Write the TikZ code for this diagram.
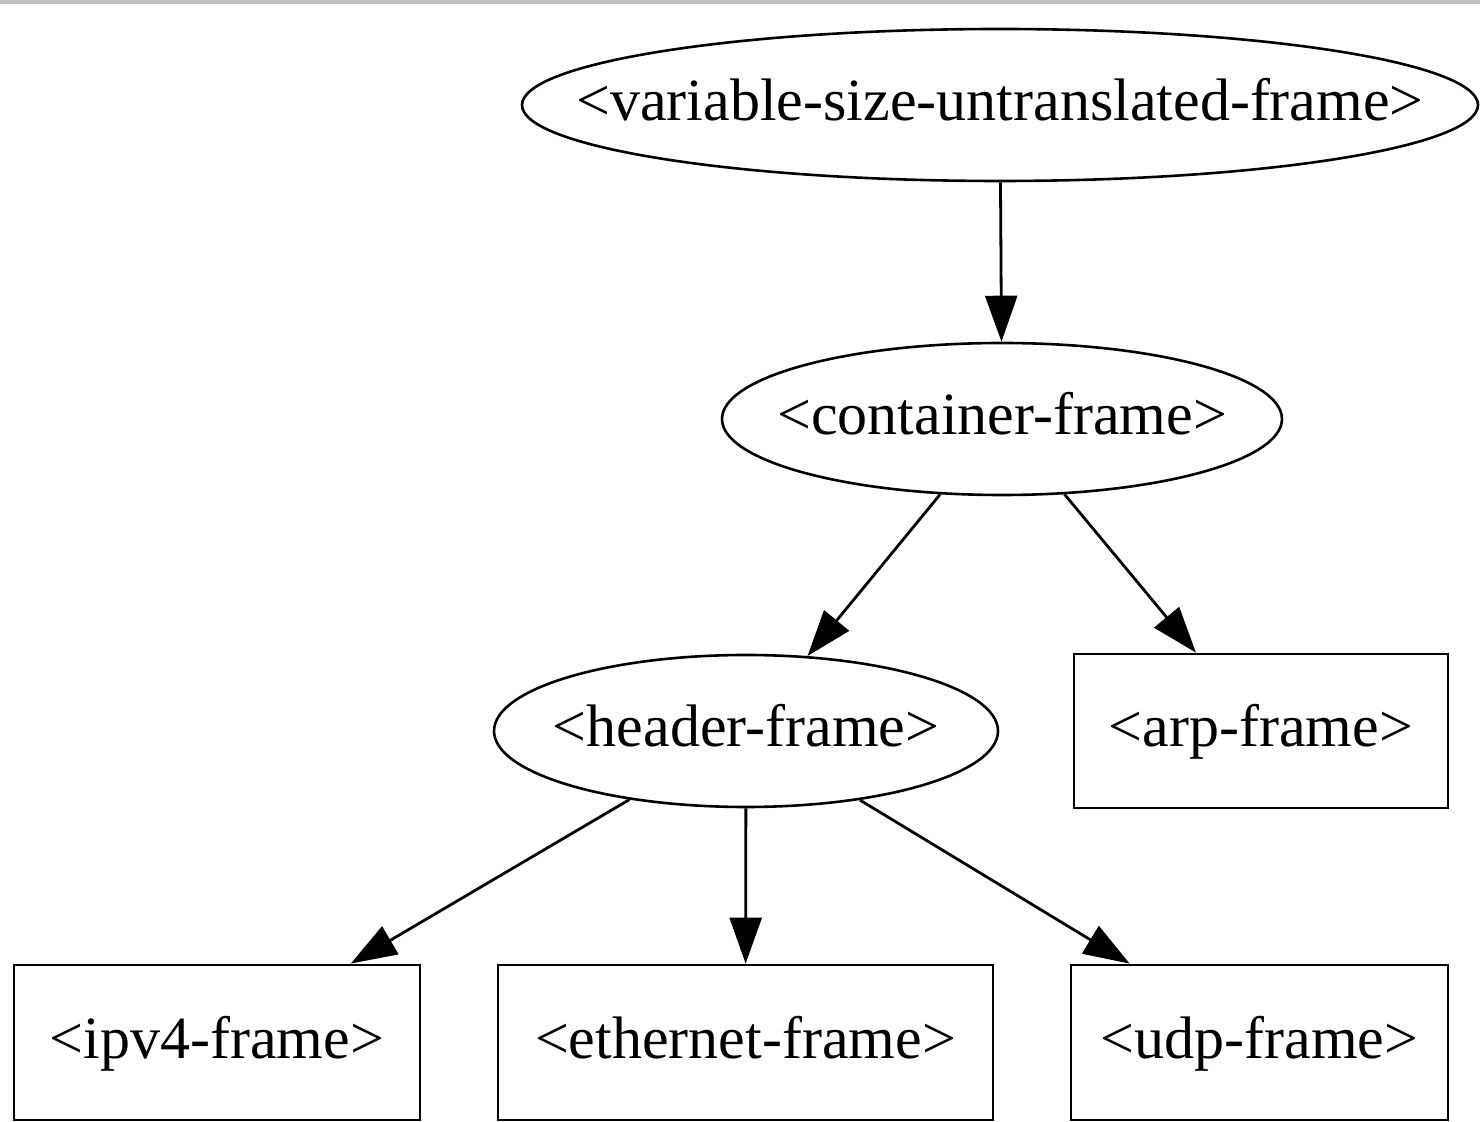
\documentclass[tikz,border=0pt]{standalone}
\usepackage{fontspec}
\setmainfont{Liberation Serif}
\usetikzlibrary{shapes.geometric,arrows.meta}
\begin{document}
\begin{tikzpicture}[x=0.5pt,y=-0.5pt,
  txt/.style={font=\fontsize{30pt}{34pt}\selectfont, inner sep=0pt, text height=21pt, text depth=5pt},
  oval/.style={draw, ellipse, inner sep=0pt, line width=1.3pt},
  box/.style={draw, rectangle, txt, line width=1.4pt},
  link/.style={line width=1.4pt, -{Triangle[length=23pt,width=16pt]}}]
  \useasboundingbox (0,0) rectangle (1480,1122);
  \fill[black!25] (0,0) rectangle (1480,4);

  % frame hierarchy: ovals carry their text as a centred label
  \node[oval, minimum width=956*0.5pt, minimum height=152*0.5pt,
        label={[txt]center:<variable-size-untranslated-frame>}] (vsu) at (1000,105) {};
  \node[oval, minimum width=560*0.5pt, minimum height=152*0.5pt,
        label={[txt]center:<container-frame>}] (cont) at (1002,419) {};
  \node[oval, minimum width=504*0.5pt, minimum height=152*0.5pt,
        label={[txt]center:<header-frame>}] (hdr) at (746,731) {};
  \node[box, minimum width=374*0.5pt, minimum height=154*0.5pt] (arp) at (1261,731) {<arp-frame>};
  \node[box, minimum width=406*0.5pt, minimum height=155*0.5pt] (ipv4) at (217,1042.5) {<ipv4-frame>};
  \node[box, minimum width=495*0.5pt, minimum height=155*0.5pt] (eth) at (745.5,1042.5) {<ethernet-frame>};
  \node[box, minimum width=377*0.5pt, minimum height=155*0.5pt] (udp) at (1259.5,1042.5) {<udp-frame>};

  % inheritance links
  \draw[link] (vsu) -- (cont);
  \draw[link] (cont) -- (hdr);
  \draw[link] (cont) -- (arp);
  \draw[link] (hdr) -- (ipv4);
  \draw[link] (hdr) -- (eth);
  \draw[link] (hdr) -- (udp);
\end{tikzpicture}
\end{document}
